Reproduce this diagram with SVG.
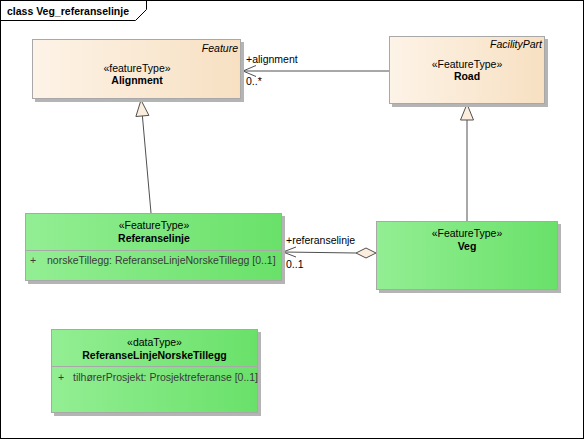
<svg xmlns="http://www.w3.org/2000/svg" width="584" height="439" viewBox="0 0 584 439">
<defs>
<linearGradient id="gOchre" x1="0" y1="0" x2="1" y2="0">
<stop offset="0" stop-color="#FDF3E7"/>
<stop offset="1" stop-color="#F7E0C2"/>
</linearGradient>
<linearGradient id="gGreen" x1="0" y1="0" x2="1" y2="0">
<stop offset="0" stop-color="#93EE93"/>
<stop offset="1" stop-color="#69E169"/>
</linearGradient>
</defs>
<style>
text{font-family:"Liberation Sans",Arial,sans-serif;font-size:10.5px;fill:#000}
.b{font-weight:bold}
.i{font-style:italic}
.m{text-anchor:middle}
.e{text-anchor:end}
.attr{fill:#3a3a3a}
.shadow{fill:#B4B4B4}
.box{stroke:#A8A8A8;stroke-width:1}
.sep{stroke:#A8A8A8;stroke-width:1}
.ln{stroke:#505050;stroke-width:1;fill:none}
.tri{fill:#FBEEDD;stroke:#505050;stroke-width:1}
</style>
<rect x="0.5" y="0.5" width="583" height="438" fill="#fff" stroke="#000"/>
<path d="M0.5,20.5 H135.5 L146.5,9.5 V0.5" fill="none" stroke="#000"/>
<text x="7" y="15" class="b">class Veg_referanselinje</text>

<g id="connectors">
<line class="ln" x1="467" y1="221" x2="467" y2="120"/>
<path class="tri" d="M467,104 L473.5,120 L460.5,120 Z"/>
<line class="ln" x1="151" y1="213" x2="142.4" y2="115.9"/>
<path class="tri" d="M141,100 L148.9,115.4 L135.9,116.5 Z"/>
<line class="ln" x1="389" y1="71" x2="243" y2="71"/>
<path class="ln" d="M256,65.5 L243,71 L256,76.5"/>
<text x="246" y="63">+alignment</text>
<text x="246" y="85">0..*</text>
<line class="ln" x1="356" y1="253" x2="283" y2="252"/>
<path class="ln" d="M296,247 L283,252 L296,257"/>
<path d="M376,253 L366,248 L356,253 L366,258 Z" fill="#FBEEDD" stroke="#505050"/>
<text x="286" y="244">+referanselinje</text>
<text x="286" y="268">0..1</text>
</g>

<g id="Alignment">
<rect class="shadow" x="35" y="42" width="209" height="60"/>
<rect class="box" x="32.5" y="39.5" width="208" height="59" fill="url(#gOchre)"/>
<text x="238" y="52" class="i e">Feature</text>
<text x="137" y="72" class="m">«featureType»</text>
<text x="137" y="84" class="m b">Alignment</text>
</g>

<g id="Road">
<rect class="shadow" x="392" y="39" width="156" height="68"/>
<rect class="box" x="389.5" y="36.5" width="155" height="67" fill="url(#gOchre)"/>
<text x="542" y="48" class="i e">FacilityPart</text>
<text x="467" y="68" class="m">«FeatureType»</text>
<text x="467" y="80" class="m b">Road</text>
</g>

<g id="Referanselinje">
<rect class="shadow" x="28" y="216" width="257" height="68"/>
<rect class="box" x="25.5" y="213.5" width="256" height="67" fill="url(#gGreen)"/>
<line class="sep" x1="25.5" y1="250.5" x2="281.5" y2="250.5"/>
<text x="154" y="229" class="m">«FeatureType»</text>
<text x="154" y="242" class="m b">Referanselinje</text>
<text x="30" y="264" class="attr">+</text>
<text x="47" y="264" class="attr">norskeTillegg: ReferanseLinjeNorskeTillegg [0..1]</text>
</g>

<g id="Veg">
<rect class="shadow" x="379" y="224" width="182" height="69"/>
<rect class="box" x="376.5" y="221.5" width="181" height="68" fill="url(#gGreen)"/>
<text x="467" y="237" class="m">«FeatureType»</text>
<text x="467" y="250" class="m b">Veg</text>
</g>

<g id="ReferanseLinjeNorskeTillegg">
<rect class="shadow" x="54" y="332" width="207" height="84"/>
<rect class="box" x="51.5" y="329.5" width="206" height="83" fill="url(#gGreen)"/>
<line class="sep" x1="51.5" y1="366.5" x2="257.5" y2="366.5"/>
<text x="154.5" y="346" class="m">«dataType»</text>
<text x="154.5" y="359" class="m b">ReferanseLinjeNorskeTillegg</text>
<text x="58" y="381" class="attr">+</text>
<text x="73" y="381" class="attr">tilhørerProsjekt: Prosjektreferanse [0..1]</text>
</g>
</svg>
